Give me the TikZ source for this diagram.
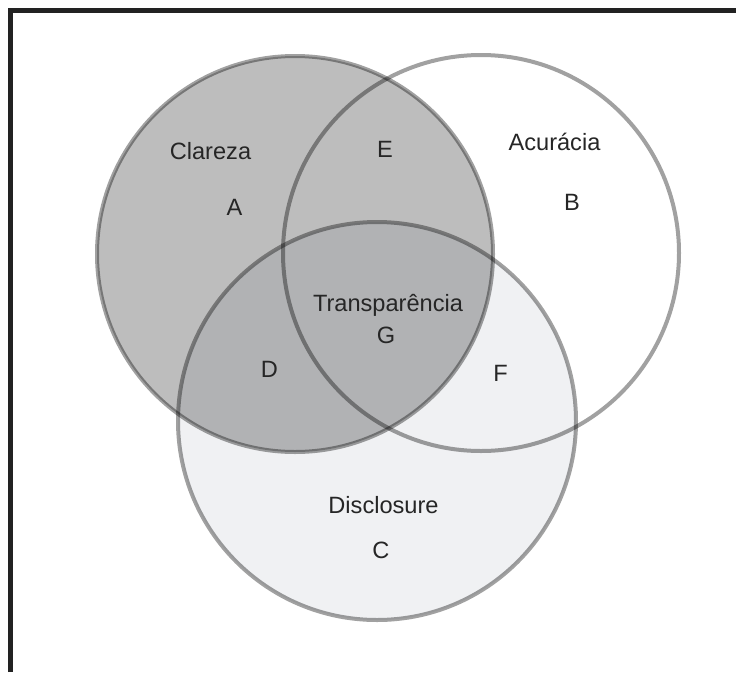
\documentclass[tikz,border=0pt]{standalone}
\usepackage{fontspec}
\setmainfont{Liberation Sans}
\usepackage{tikz}
\usetikzlibrary{positioning,calc}

\definecolor{framegray}{HTML}{222222}
\definecolor{discfill}{HTML}{F0F1F3}
\definecolor{txtgray}{HTML}{262626}

\tikzset{
    setline/.style={line width=4pt, draw=black, draw opacity=0.37},
    setlabel/.style={anchor=base, inner sep=0pt, text=txtgray, font=\fontsize{23.6}{28}\selectfont}
}

\begin{document}
\begin{tikzpicture}[x=1pt, y=-1pt]
    \useasboundingbox (0,0) rectangle (736,672);

    % Frame
    \draw[line width=4.5pt, framegray] (10.5,672) -- (10.5,10.5) -- (736,10.5);

    % Fills
    \fill[discfill] (377,421) circle (199);
    \fill[black, fill opacity=0.26] (295,254) circle (198);

    % Circles
    \draw[setline] (295,254) circle (198);
    \draw[setline] (481,253) circle (198);
    \draw[setline] (377,421) circle (199);

    % Labels
    \node[setlabel] (clareza) at (210.5,159) {Clareza};
    \node[setlabel] (regA) at (234.5,215) {A};
    \node[setlabel] (regE) at (385,157) {E};
    \node[setlabel] (acuracia) at (554.5,150) {Acurácia};
    \node[setlabel] (regB) at (572,210) {B};
    \node[setlabel] (transp) at (388,311) {Transparência};
    \node[setlabel] (regG) at (386,343) {G};
    \node[setlabel] (regD) at (269.5,377) {D};
    \node[setlabel] (regF) at (500.5,381) {F};
    \node[setlabel] (disclosure) at (383.5,513) {Disclosure};
    \node[setlabel] (regC) at (381,558) {C};
\end{tikzpicture}
\end{document}
